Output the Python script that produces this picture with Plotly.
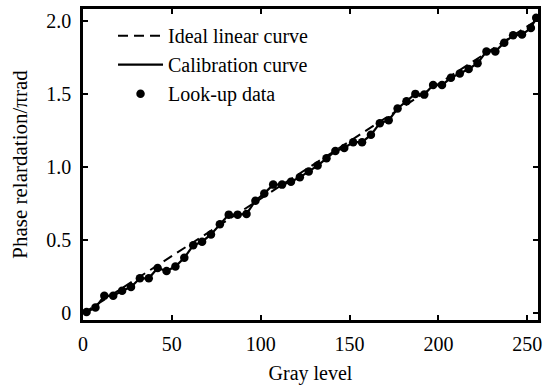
import plotly.graph_objects as go

gray = [2, 7, 12, 17, 22, 27, 32, 37, 42, 47, 52, 57, 62, 67, 72, 77, 82, 87, 92, 97,
        102, 107, 112, 117, 122, 127, 132, 137, 142, 147, 152, 157, 162, 167, 172, 177,
        182, 187, 192, 197, 202, 207, 212, 217, 222, 227, 232, 237, 242, 247, 252, 255]
phase = [0.01, 0.04, 0.12, 0.12, 0.155, 0.18, 0.24, 0.24, 0.31, 0.29, 0.32, 0.38, 0.465,
         0.49, 0.54, 0.61, 0.675, 0.675, 0.68, 0.77, 0.82, 0.88, 0.88, 0.90, 0.93, 0.97,
         1.01, 1.06, 1.11, 1.13, 1.17, 1.17, 1.22, 1.30, 1.32, 1.40, 1.45, 1.50, 1.495,
         1.56, 1.56, 1.61, 1.64, 1.67, 1.71, 1.79, 1.79, 1.85, 1.90, 1.905, 1.95, 2.02]
ideal_x = [0, 255]
ideal_y = [0, 2]

xticks = [0, 50, 100, 150, 200, 250]
yticks = [0, 0.5, 1.0, 1.5, 2.0]
yticklabels = ["0", "0.5", "1.0", "1.5", "2.0"]

font = "Liberation Serif, Times New Roman, serif"

fig = go.Figure()
fig.add_trace(go.Scatter(x=ideal_x, y=ideal_y, mode="lines", name="Ideal linear curve",
                         line=dict(color="black", width=2, dash="10px,6px")))
fig.add_trace(go.Scatter(x=gray, y=phase, mode="lines", name="Calibration curve",
                         line=dict(color="black", width=2.2)))
fig.add_trace(go.Scatter(x=gray, y=phase, mode="markers", name="Look-up data",
                         marker=dict(color="black", size=8.5)))

axis_common = dict(showline=True, linecolor="black", linewidth=2.5, mirror="ticks",
                   ticks="inside", ticklen=5, tickwidth=1.5, tickcolor="black",
                   showgrid=False, zeroline=False,
                   tickfont=dict(family=font, size=20, color="black"))

fig.update_layout(
    width=544, height=385,
    margin=dict(l=83, r=3, t=9, b=61),
    paper_bgcolor="white", plot_bgcolor="white",
    font=dict(family=font, size=20, color="black"),
    showlegend=True,
    legend=dict(x=0.066, y=0.977, xanchor="left", yanchor="top",
                bgcolor="rgba(0,0,0,0)", font=dict(family=font, size=20),
                tracegroupgap=0, itemwidth=45),
    xaxis=dict(range=[0, 256], tickvals=xticks, ticklabelstandoff=4,
               title=dict(text="Gray level", font=dict(family=font, size=20), standoff=13),
               **axis_common),
    yaxis=dict(range=[-0.045, 2.08], tickvals=yticks, ticktext=yticklabels,
               ticklabelstandoff=5,
               title=dict(text="Phase relardation/πrad", font=dict(family=font, size=21),
                          standoff=13),
               **axis_common),
)

fig.write_html("out.html")
